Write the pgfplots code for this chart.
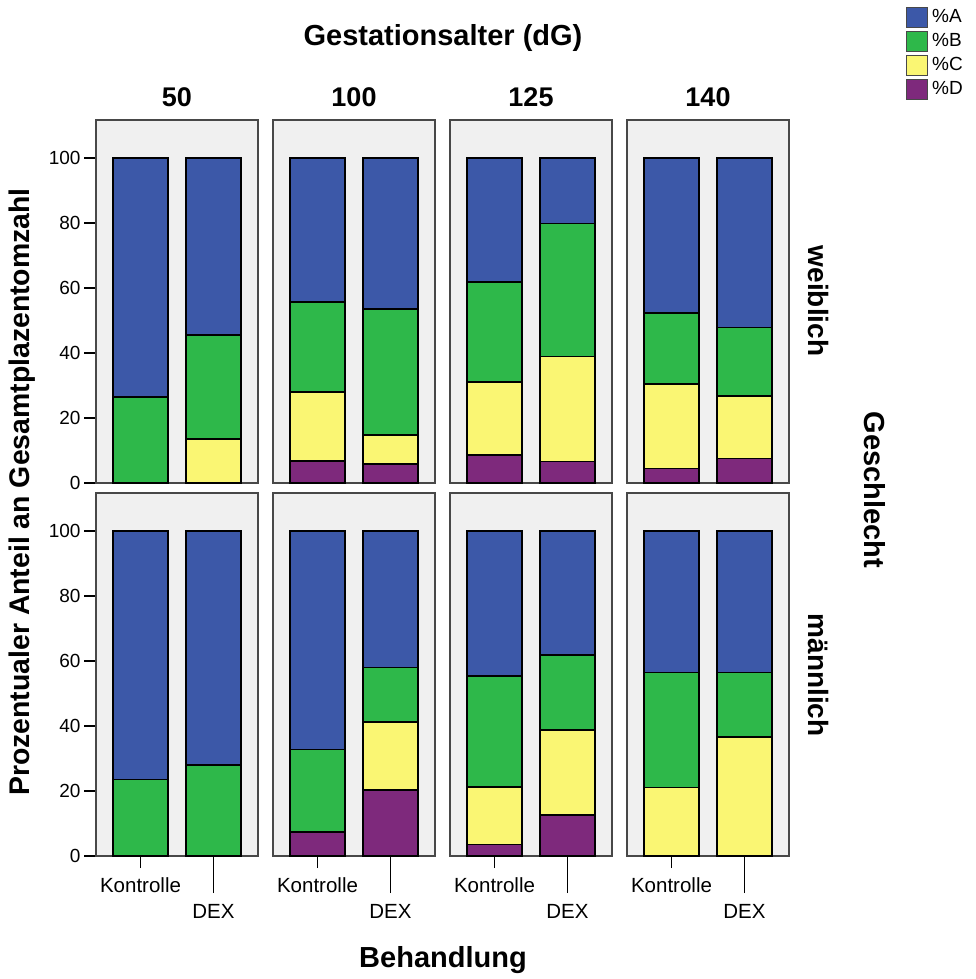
\documentclass[border=0pt]{standalone}
\usepackage{pgfplots}
\usepackage{pgfplotstable}
\pgfplotsset{compat=1.18}
\usepackage{fontspec}
\setmainfont{Liberation Sans}

\definecolor{cA}{RGB}{60,88,168}
\definecolor{cB}{RGB}{46,184,74}
\definecolor{cC}{RGB}{250,246,115}
\definecolor{cD}{RGB}{126,41,124}
\definecolor{panelbg}{RGB}{240,240,240}
\definecolor{frame}{RGB}{72,72,72}

% weiblich
\pgfplotstableread{
x D C B A
0 0 0 26.5 73.5
1 0 13.5 32 54.5
}\wFifty
\pgfplotstableread{
x D C B A
0 6.8 21.2 27.7 44.3
1 5.8 9.0 38.7 46.5
}\wHundred
\pgfplotstableread{
x D C B A
0 8.6 22.4 30.9 38.1
1 6.6 32.3 41.0 20.1
}\wOneTwentyFive
\pgfplotstableread{
x D C B A
0 4.5 26.0 21.9 47.6
1 7.6 19.2 21.1 52.1
}\wOneForty
% maennlich
\pgfplotstableread{
x D C B A
0 0 0 23.5 76.5
1 0 0 28.0 72.0
}\mFifty
\pgfplotstableread{
x D C B A
0 7.4 0 25.4 67.2
1 20.4 20.8 16.8 42.0
}\mHundred
\pgfplotstableread{
x D C B A
0 3.6 17.7 34.1 44.6
1 12.6 26.1 23.2 38.1
}\mOneTwentyFive
\pgfplotstableread{
x D C B A
0 0 21.1 35.4 43.5
1 0 36.6 19.9 43.5
}\mOneForty

\pgfplotsset{
  base/.style={
    scale only axis, width=162pt, height=363pt,
    xmin=-0.61, xmax=1.61, ymin=0, ymax=111.7,
    ybar stacked, bar width=0.76,
    axis background/.style={fill=panelbg},
    axis line style={draw=frame, line width=2.2pt},
    tick pos=left, tick align=outside,
    major tick length=12pt,
    tick style={black, line width=1.3pt},
    ytick={0,20,...,100}, xtick=\empty,
    /pgf/number format/assume math mode=true,
    yticklabel style={font=\fontsize{19}{19}\selectfont},
    xticklabel style={font=\fontsize{20.5}{20.5}\selectfont},
    every axis plot/.append style={draw=black, line width=1.6pt},
    clip=false,
  },
  noy/.style={ytick=\empty},
  botx/.style={
    xtick={0}, xticklabels={Kontrolle},
    xticklabel style={yshift=-6pt},
    extra x ticks={1}, extra x tick labels={DEX},
    extra x tick style={major tick length=37pt, tick label style={yshift=-2pt}},
  },
  sqlegend/.style={legend image code/.code={\draw[##1,draw=frame,line width=1pt] (0pt,-10pt) rectangle (21pt,10pt);}},
}

\newcommand{\panel}[4]{%
\begin{axis}[base, at={(#1pt,-#2pt)}, anchor=north west, #4]
\addplot[fill=cD, sqlegend] table[x=x,y=D]{#3};
\addplot[fill=cC, sqlegend] table[x=x,y=C]{#3};
\addplot[fill=cB, sqlegend] table[x=x,y=B]{#3};
\addplot[fill=cA, sqlegend] table[x=x,y=A]{#3};
\end{axis}}

\begin{document}
\begin{tikzpicture}
\path[use as bounding box] (0,0) rectangle (975pt,-979pt);

\panel{96}{120}{\wFifty}{legend entries={\%D,\%C,\%B,\%A}, reverse legend,
  legend style={at={(5.0,1.313)}, anchor=north west, draw=none, fill=none,
  font=\fontsize{19}{19}\selectfont, row sep=3pt, inner sep=0pt,
  nodes={inner xsep=4pt}},
  legend cell align=left}
\panel{273}{120}{\wHundred}{noy}
\panel{450}{120}{\wOneTwentyFive}{noy}
\panel{627}{120}{\wOneForty}{noy}

\panel{96}{493}{\mFifty}{botx}
\panel{273}{493}{\mHundred}{noy,botx}
\panel{450}{493}{\mOneTwentyFive}{noy,botx}
\panel{627}{493}{\mOneForty}{noy,botx}

% titles and labels
\node[font=\bfseries\fontsize{29}{29}\selectfont] at (443pt,-38pt) {Gestationsalter (dG)};
\foreach \xx/\tt in {177/50, 354/100, 531/125, 708/140}
  \node[font=\bfseries\fontsize{27}{27}\selectfont] at (\xx pt,-97pt) {\tt};
\node[font=\bfseries\fontsize{28.4}{28.4}\selectfont, rotate=90] at (22pt,-492pt) {Prozentualer Anteil an Gesamtplazentomzahl};
\node[font=\bfseries\fontsize{28}{28}\selectfont, rotate=-90] at (818pt,-301pt) {weiblich};
\node[font=\bfseries\fontsize{28}{28}\selectfont, rotate=-90] at (818pt,-675pt) {männlich};
\node[font=\bfseries\fontsize{29}{29}\selectfont, rotate=-90] at (875pt,-490pt) {Geschlecht};
\node[font=\bfseries\fontsize{29}{29}\selectfont] at (443pt,-960pt) {Behandlung};
\end{tikzpicture}
\end{document}
